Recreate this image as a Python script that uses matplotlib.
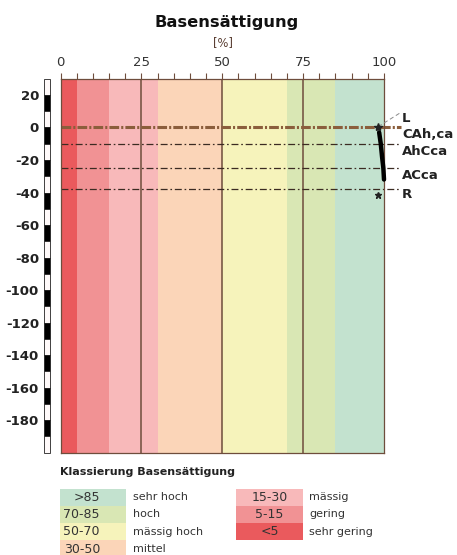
import matplotlib
matplotlib.use("Agg")
import matplotlib.pyplot as plt
from matplotlib.patches import Rectangle

plt.rcParams["font.family"] = ["DejaVu Sans"]
plt.rcParams["axes.unicode_minus"] = False
plt.rcParams["lines.scale_dashes"] = False

# --- data -------------------------------------------------------------
class_edges = [0, 5, 15, 30, 50, 70, 85, 100]
class_colors = ["#ea5a5d", "#f19294", "#f8b9ba", "#fbd5b8",
                "#f6f3bb", "#d9e7b4", "#c3e2cf"]

horizon_bounds = [0, -10, -25, -38]
horizon_names = ["L", "CAh,ca", "AhCca", "ACca", "R"]
horizon_label_depth = [5.8, -4.6, -14.5, -29.8, -41.5]

profile_depth = [-3, -10, -18, -25, -32]
profile_value = [98.5, 99.0, 99.4, 99.8, 100.0]

litter_depth, litter_value = 0.5, 98.2
rock_depth, rock_value = -41.5, 98.0

depth_ticks = list(range(-180, 21, 20))
pct_major = [0, 25, 50, 75, 100]
pct_minor = list(range(0, 101, 5))

legend_left = [(">85", "sehr hoch", "#c3e2cf"),
               ("70-85", "hoch", "#d9e7b4"),
               ("50-70", "mässig hoch", "#f6f3bb"),
               ("30-50", "mittel", "#fbd5b8")]
legend_right = [("15-30", "mässig", "#f8b9ba"),
                ("5-15", "gering", "#f19294"),
                ("<5", "sehr gering", "#ea5a5d")]

# --- figure -----------------------------------------------------------
W, H = 457, 555
fig = plt.figure(figsize=(W / 100, H / 100), dpi=100)
ax = fig.add_axes([60.5 / W, 1 - 452.7 / H, (384 - 60.5) / W, (452.7 - 78.7) / H])
ax.set_xlim(0, 100)
ax.set_ylim(-200, 30)

frame_col = "#6e4d3c"
for s in ax.spines.values():
    s.set_color(frame_col)
    s.set_linewidth(0.9)

# classification bands
for lo, hi, c in zip(class_edges[:-1], class_edges[1:], class_colors):
    ax.axvspan(lo, hi, color=c, lw=0, zorder=0)

for x in [25, 50, 75]:
    ax.axvline(x, color=frame_col, lw=1.1, zorder=1)

# horizon boundaries
for i, d in enumerate(horizon_bounds):
    if i == 0:
        ax.plot([0, 105.3], [d, d], color="#8b5e3c", lw=2.2,
                dashes=(7, 1.5, 1.5, 1.5), clip_on=False, zorder=2)
    else:
        ax.plot([0, 105.3], [d, d], color="#3b2b22", lw=0.9,
                dashes=(5, 2, 1.2, 2), clip_on=False, zorder=2)

for name, d in zip(horizon_names, horizon_label_depth):
    ax.text(105.6, d, name, fontsize=9.5, fontweight="bold", color="#222222",
            ha="left", va="center", clip_on=False)

# leader line to the litter label
ax.plot([litter_value, 105.4], [litter_depth, 9.5], color="#8a8a8a", lw=0.7,
        dashes=(3, 2), clip_on=False, zorder=3)

# measured profile
ax.plot(profile_value, profile_depth, color="black", lw=3.2,
        solid_capstyle="round", solid_joinstyle="round", clip_on=False, zorder=4)
ax.plot([litter_value], [litter_depth], marker="*", ms=6, color="#222222",
        clip_on=False, zorder=5)
ax.plot([rock_value], [rock_depth], marker="*", ms=5, color="#222222",
        clip_on=False, zorder=5)

# top axis
ax.xaxis.tick_top()
ax.set_xticks(pct_major)
ax.set_xticks(pct_minor, minor=True)
ax.set_xticklabels([str(v) for v in pct_major], fontsize=9.5, color="#333333")
ax.tick_params(axis="x", which="both", direction="out", length=4, width=0.8,
               color=frame_col, pad=3)

# depth axis
ax.set_yticks(depth_ticks)
ax.set_yticklabels([str(v) for v in depth_ticks], fontsize=9.5,
                   fontweight="bold", color="#222222")
ax.tick_params(axis="y", length=0, pad=15.5)

# depth scale bar
for top in range(30, -200, -10):
    black = (top % 20 == 0)
    ax.add_patch(Rectangle((-5.1, top - 10), 1.9, 10,
                           facecolor="black" if black else "#fffafa",
                           edgecolor="#222222", lw=0.6, clip_on=False, zorder=3))

# titles
fig.text(226.7 / W, 1 - 22 / H, "Basensättigung", fontsize=11.7,
         fontweight="bold", ha="center", va="center", color="#111111")
fig.text(223 / W, 1 - 43 / H, "[%]", fontsize=8.3, ha="center", va="center",
         color="#5a3f33")

# legend
fig.text(60 / W, 1 - 471.7 / H, "Klassierung Basensättigung", fontsize=8,
         fontweight="bold", ha="left", va="center", color="#222222")

row_h = 17.3
top0 = 488.5
for i, (rng, lab, c) in enumerate(legend_left):
    y0 = top0 + i * row_h
    fig.patches.append(Rectangle((60 / W, 1 - (y0 + row_h) / H), 66 / W, row_h / H,
                                 transform=fig.transFigure, facecolor=c, lw=0))
    yc = 1 - (y0 + row_h / 2) / H
    fig.text(100 / W, yc, rng, fontsize=9, ha="right", va="center", color="#333333")
    fig.text(133 / W, yc, lab, fontsize=8, ha="left", va="center", color="#333333")

for i, (rng, lab, c) in enumerate(legend_right):
    y0 = top0 + i * row_h
    fig.patches.append(Rectangle((236 / W, 1 - (y0 + row_h) / H), 67 / W, row_h / H,
                                 transform=fig.transFigure, facecolor=c, lw=0))
    yc = 1 - (y0 + row_h / 2) / H
    fig.text(269.5 / W, yc, rng, fontsize=9, ha="center", va="center", color="#333333")
    fig.text(309 / W, yc, lab, fontsize=8, ha="left", va="center", color="#333333")

fig.savefig("out.png", dpi=100)
